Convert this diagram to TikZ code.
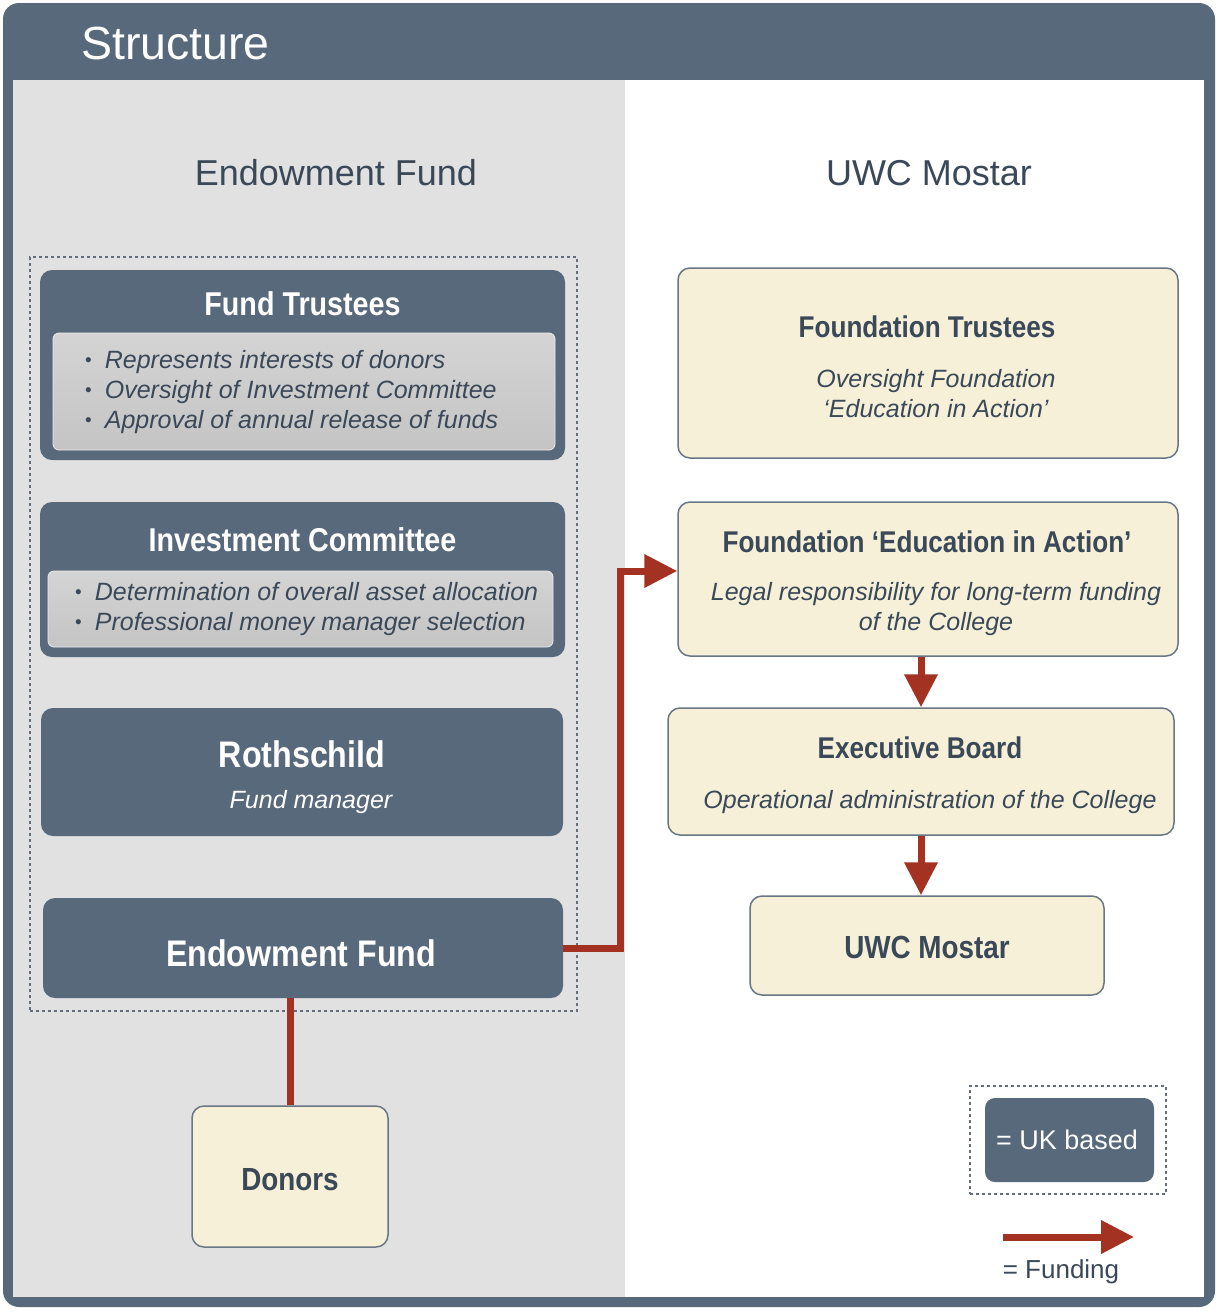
\documentclass[tikz,border=0pt]{standalone}
\usepackage{fontspec}
\setmainfont{Liberation Sans}
\newfontfamily\condf[FakeStretch=0.87]{Liberation Sans}
\usetikzlibrary{arrows.meta}
\definecolor{slate}{RGB}{87,105,123}
\definecolor{panel}{RGB}{225,225,225}
\definecolor{cream}{RGB}{246,240,217}
\definecolor{creamline}{RGB}{105,118,132}
\definecolor{darktxt}{RGB}{58,72,88}
\definecolor{innertop}{RGB}{212,212,212}
\definecolor{innerbot}{RGB}{196,196,196}
\definecolor{fundred}{RGB}{164,50,34}
\definecolor{dashc}{RGB}{100,110,122}
\newcommand{\bdot}{\raisebox{1.5pt}{\fontsize{19}{20}\selectfont\upshape •}\hspace{13pt}}
\tikzset{
  slatebox/.style={fill=slate, draw=none, rounded corners=12pt, inner sep=0pt},
  creambox/.style={fill=cream, draw=creamline, line width=1.5pt, rounded corners=12pt, inner sep=0pt},
  innerbox/.style={top color=innertop, bottom color=innerbot, draw=white!85!gray, line width=0.8pt, rounded corners=6pt, inner sep=0pt},
  titlew/.style={font=\condf\bfseries\fontsize{33}{36}\selectfont, text=white, anchor=base, inner sep=0pt},
  titled/.style={font=\condf\bfseries\fontsize{30}{34}\selectfont, text=darktxt, anchor=base, inner sep=0pt},
  itd/.style={font=\itshape\fontsize{25}{30}\selectfont, text=darktxt, anchor=base, inner sep=0pt},
  itw/.style={itd, text=white},
  bul/.style={itd, anchor=base west},
  fund/.style={draw=fundred, line width=7pt},
  fundarrow/.style={fund, -{Triangle[length=33pt,width=32pt]}},
  dashbox/.style={draw=dashc, dash pattern=on 3pt off 3pt, line width=1.4pt, inner sep=0pt},
  headtxt/.style={font=\fontsize{36}{40}\selectfont, text=darktxt, anchor=base, inner sep=0pt}
}
\begin{document}
\begin{tikzpicture}[x=1pt,y=-1pt]
\useasboundingbox (0,0) rectangle (1220,1312);
\fill[white] (0,0) rectangle (1220,1312);
% frame
\fill[slate, rounded corners=16pt] (3,3) rectangle (1215,1307);
\fill[panel] (13,80) rectangle (625,1297);
\fill[white] (625,80) rectangle (1204,1297);
\node[font=\fontsize{46.5}{50}\selectfont, text=white, anchor=base west, inner sep=0pt] (hdr) at (81,59) {Structure};
\node[headtxt] (hl) at (336,185) {Endowment Fund};
\node[headtxt] (hr) at (929,185) {UWC Mostar};
% left group
\node[dashbox, minimum width=547pt, minimum height=754pt] (grp) at (303.5,634) {};
\node[slatebox, minimum width=525pt, minimum height=190pt] (ft) at (302.5,365) {};
\node[innerbox, minimum width=502pt, minimum height=117pt] (ftin) at (304,391.5) {};
\node[titlew] (ftt) at (302.5,315) {Fund Trustees};
\node[bul] (ft1) at (85,368) {\bdot Represents interests of donors};
\node[bul] (ft2) at (85,398) {\bdot Oversight of Investment Committee};
\node[bul] (ft3) at (85,428) {\bdot Approval of annual release of funds};
\node[slatebox, minimum width=525pt, minimum height=155pt] (ic) at (302.5,579.5) {};
\node[innerbox, minimum width=505pt, minimum height=76pt] (icin) at (300.5,609) {};
\node[titlew] (ict) at (302.5,551) {Investment Committee};
\node[bul] (ic1) at (75,600) {\bdot Determination of overall asset allocation};
\node[bul] (ic2) at (75,630) {\bdot Professional money manager selection};
\node[slatebox, minimum width=522pt, minimum height=128pt] (roth) at (302,772) {};
\node[titlew, font=\condf\bfseries\fontsize{37}{40}\selectfont] (rotht) at (302,767) {Rothschild};
\node[itw] (rothm) at (311,808) {Fund manager};
\node[slatebox, minimum width=520pt, minimum height=100pt] (ef) at (303,948) {};
\node[titlew, font=\condf\bfseries\fontsize{37}{40}\selectfont] (eft) at (301,966) {Endowment Fund};
\node[creambox, minimum width=196pt, minimum height=141pt] (donors) at (290,1176.5) {};
\node[titled, font=\condf\bfseries\fontsize{32}{36}\selectfont] (donorst) at (290,1190) {Donors};
% right column
\node[creambox, minimum width=500pt, minimum height=190pt] (fdt) at (928,363) {};
\node[titled] (fdtt) at (927,337) {Foundation Trustees};
\node[itd] (fdt1) at (936,387) {Oversight Foundation};
\node[itd] (fdt2) at (936,417) {‘Education in Action’};
\node[creambox, minimum width=500pt, minimum height=154pt] (fea) at (928,579) {};
\node[titled] (feat) at (927,552) {Foundation ‘Education in Action’};
\node[itd] (fea1) at (936,600) {Legal responsibility for long-term funding};
\node[itd] (fea2) at (936,630) {of the College};
\node[creambox, minimum width=506pt, minimum height=127pt] (eb) at (921,771.5) {};
\node[titled] (ebt) at (920,758) {Executive Board};
\node[itd] (eb1) at (930,808) {Operational administration of the College};
\node[creambox, minimum width=354pt, minimum height=99pt] (uwc) at (927,945.5) {};
\node[titled, font=\condf\bfseries\fontsize{32}{36}\selectfont] (uwct) at (927,958) {UWC Mostar};
% connectors
\draw[fund] (donors.north |- ef.south) -- (donors.north);
\coordinate (bend) at (620,571);
\draw[fundarrow] (ef.east) -| (bend) -- (bend -| fea.west);
\draw[fundarrow] (eb.north |- fea.south) -- (eb.north);
\draw[fundarrow] (eb.south) -- (eb.south |- uwc.north);
% legend
\node[dashbox, minimum width=196pt, minimum height=108pt] (leg) at (1068,1140) {};
\node[slatebox, rounded corners=10pt, minimum width=169pt, minimum height=84pt] (legbox) at (1069.5,1140) {};
\node[font=\fontsize{27}{30}\selectfont, text=white, anchor=base, inner sep=0pt] (legt) at (1067,1149) {= UK based};
\coordinate (la) at (1003,1237);
\coordinate (lb) at (1134,1237);
\draw[fundarrow] (la) -- (lb);
\node[font=\fontsize{26}{30}\selectfont, text=darktxt, anchor=base, inner sep=0pt] (legf) at (1061,1278) {= Funding};
\end{tikzpicture}
\end{document}
